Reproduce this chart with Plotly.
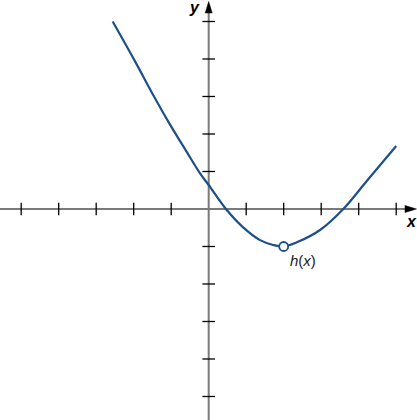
import plotly.graph_objects as go

# Curve h(x)
curve_x = [-2.56, -1.96, -1.48, -1.03, -0.59, -0.23, 0.0, 0.46, 0.92, 1.37, 1.72, 2.0, 2.35, 2.97, 3.59, 4.21, 5.0]
curve_y = [5.0, 3.93, 3.04, 2.25, 1.53, 0.95, 0.64, 0.0, -0.49, -0.83, -0.96, -1.0, -0.89, -0.56, 0.0, 0.74, 1.68]

# Open circle (hole) at the minimum
hole_x = [2]
hole_y = [-1]

# Tick positions
x_ticks = [-5, -4, -3, -2, -1, 1, 2, 3, 4, 5]
y_ticks = [-5, -4, -3, -2, -1, 1, 2, 3, 4, 5]

curve_color = "#1d4f8a"
axis_color = "#7a7a7a"

fig = go.Figure()

# Tick marks
fig.add_trace(go.Scatter(
    x=x_ticks, y=[0] * len(x_ticks), mode="markers",
    marker=dict(symbol="line-ns", size=9, line=dict(color="black", width=1.3)),
    hoverinfo="skip"))
fig.add_trace(go.Scatter(
    x=[0] * len(y_ticks), y=y_ticks, mode="markers",
    marker=dict(symbol="line-ew", size=9, line=dict(color="black", width=1.3)),
    hoverinfo="skip"))

# Curve
fig.add_trace(go.Scatter(
    x=curve_x, y=curve_y, mode="lines",
    line=dict(color=curve_color, width=2.2, shape="spline", smoothing=1.0),
    hoverinfo="skip"))

# Hole
fig.add_trace(go.Scatter(
    x=hole_x, y=hole_y, mode="markers",
    marker=dict(symbol="circle", size=9, color="white",
                line=dict(color=curve_color, width=1.8)),
    hoverinfo="skip"))

shapes = [
    # x axis line
    dict(type="line", xref="paper", yref="y", x0=0, x1=0.985, y0=0, y1=0,
         line=dict(color=axis_color, width=2), layer="below"),
    # y axis line
    dict(type="line", xref="x", yref="paper", x0=0, x1=0, y0=0, y1=0.985,
         line=dict(color=axis_color, width=2), layer="below"),
    # x arrow head
    dict(type="path", xref="paper", yref="y", xsizemode="pixel", ysizemode="pixel",
         xanchor=1, yanchor=0,
         path="M -12,-3.5 L -0.5,0 L -12,3.5 Z",
         fillcolor="black", line=dict(color="black", width=0.5)),
    # y arrow head
    dict(type="path", xref="x", yref="paper", xsizemode="pixel", ysizemode="pixel",
         xanchor=0, yanchor=1,
         path="M -3.5,-13 L 0,-1.5 L 3.5,-13 Z",
         fillcolor="black", line=dict(color="black", width=0.5)),
]

annotations = [
    dict(x=5.41, y=-0.34, xref="x", yref="y", text="<b><i>x</i></b>", showarrow=False,
         font=dict(family="Liberation Sans, Arial, sans-serif", size=16, color="black")),
    dict(x=-0.37, y=5.38, xref="x", yref="y", text="<b><i>y</i></b>", showarrow=False,
         font=dict(family="Liberation Sans, Arial, sans-serif", size=16, color="black")),
    dict(x=2.52, y=-1.38, xref="x", yref="y", text="<i>h</i>(<i>x</i>)", showarrow=False,
         font=dict(family="Liberation Sans, Arial, sans-serif", size=15, color="#222222")),
]

fig.update_layout(
    width=417, height=420,
    margin=dict(l=0, r=0, t=0, b=0),
    plot_bgcolor="white", paper_bgcolor="white",
    showlegend=False,
    shapes=shapes,
    annotations=annotations,
    xaxis=dict(range=[-5.565, 5.555], visible=False, fixedrange=True),
    yaxis=dict(range=[-5.627, 5.573], visible=False, fixedrange=True),
)

fig.write_html("out.html", config={"displayModeBar": False},
               post_script="document.body.style.margin='0';document.body.style.overflow='hidden';")
